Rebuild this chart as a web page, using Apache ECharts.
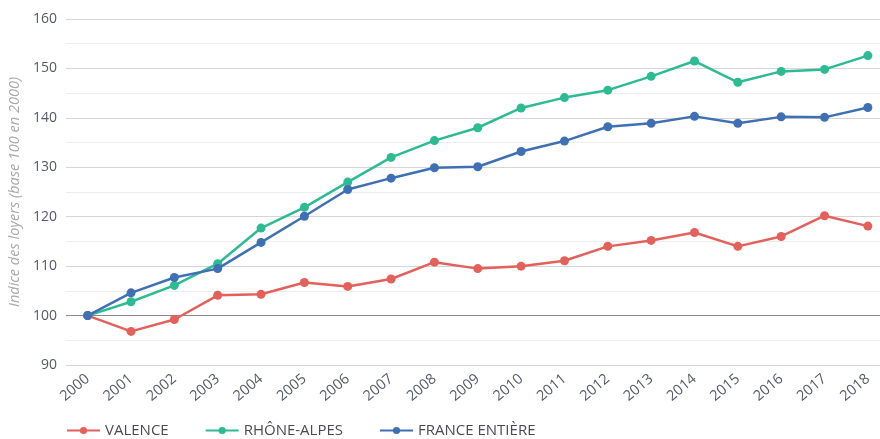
<!DOCTYPE html>
<html>
<head>
<meta charset="utf-8">
<script src="https://cdn.jsdelivr.net/npm/echarts@6/dist/echarts.min.js"></script>
<style>
html, body { margin: 0; padding: 0; background: #fff; }
#chart { width: 880px; height: 439px; }
</style>
</head>
<body>
<div id="chart"></div>
<script>
// années (axe horizontal)
var years = [2000, 2001, 2002, 2003, 2004, 2005, 2006, 2007, 2008, 2009,
	2010, 2011, 2012, 2013, 2014, 2015, 2016, 2017, 2018];

// indices (base 100 en 2000)
var valence = [100, 96.8, 99.2, 104.1, 104.3, 106.7, 105.9, 107.4, 110.8, 109.5,
	110.0, 111.1, 114.0, 115.2, 116.8, 114.0, 116.0, 120.2, 118.1];
var rhoneAlpes = [100, 102.8, 106.1, 110.5, 117.7, 121.9, 127.0, 132.0, 135.4, 138.0,
	142.0, 144.1, 145.6, 148.4, 151.5, 147.2, 149.4, 149.8, 152.6];
var franceEntiere = [100, 104.6, 107.7, 109.5, 114.8, 120.1, 125.5, 127.8, 129.9, 130.1,
	133.2, 135.3, 138.2, 138.9, 140.3, 138.9, 140.2, 140.1, 142.1];

var seriesNames = ['VALENCE', 'RHÔNE-ALPES', 'FRANCE ENTIÈRE'];
var seriesColors = ['#e4605a', '#2dbb93', '#3f6fb5'];
var yTicks = [90, 100, 110, 120, 130, 140, 150, 160];

var font = '"Open Sans", sans-serif';

function pairs(values) {
	var out = [];
	for (var i = 0; i < years.length; i++) {
		out.push([years[i], values[i]]);
	}
	return out;
}

var chart = echarts.init(document.getElementById('chart'));

var seriesArray = [];
[valence, rhoneAlpes, franceEntiere].forEach(function(values, i) {
	seriesArray.push({
		name : seriesNames[i],
		type : 'line',
		data : pairs(values),
		symbol : 'circle',
		symbolSize : 9,
		color : seriesColors[i],
		lineStyle : { width : 2.5 },
		z : i == 1 ? 2 : 3
	});
});

// ligne 100 plus foncée
var splitColors = yTicks.map(function(v) {
	return v == 100 ? '#8a8a8a' : '#d6d6d6';
});

var option = {
	animation : false,
	backgroundColor : '#fff',
	grid : {
		left : 66,
		right : 0,
		top : 19,
		bottom : 74,
		outerBoundsMode : 'none',
		containLabel : false
	},
	legend : {
		left : 66,
		top : 423,
		padding : 0,
		itemWidth : 33,
		itemHeight : 9,
		itemGap : 36,
		textStyle : {
			fontFamily : font,
			fontSize : 15,
			color : '#4a4a55'
		},
		data : seriesNames
	},
	xAxis : {
		type : 'value',
		min : 1999.5,
		max : 2018.28,
		axisLine : { show : false },
		axisTick : { show : false },
		splitLine : { show : false },
		axisLabel : {
			customValues : years,
			rotate : 40,
			margin : 12,
			fontFamily : font,
			fontSize : 14.5,
			color : '#555a66',
			formatter : function(v) { return String(Math.round(v)); }
		}
	},
	yAxis : {
		type : 'value',
		min : 90,
		max : 160,
		interval : 10,
		name : 'Indice des loyers (base 100 en 2000)',
		nameLocation : 'middle',
		nameGap : 43,
		nameTextStyle : {
			fontFamily : font,
			fontStyle : 'italic',
			fontSize : 14.5,
			color : '#a8a8a8'
		},
		axisLine : { show : false },
		axisTick : { show : false },
		axisLabel : {
			margin : 9,
			fontFamily : font,
			fontSize : 14,
			color : '#555a66'
		},
		splitLine : {
			lineStyle : { color : splitColors, width : 1.2 }
		},
		minorTick : { show : false, splitNumber : 2 },
		minorSplitLine : {
			show : true,
			lineStyle : { color : '#eeeeee', width : 1.2 }
		}
	},
	series : seriesArray
};

chart.setOption(option);
</script>
</body>
</html>
